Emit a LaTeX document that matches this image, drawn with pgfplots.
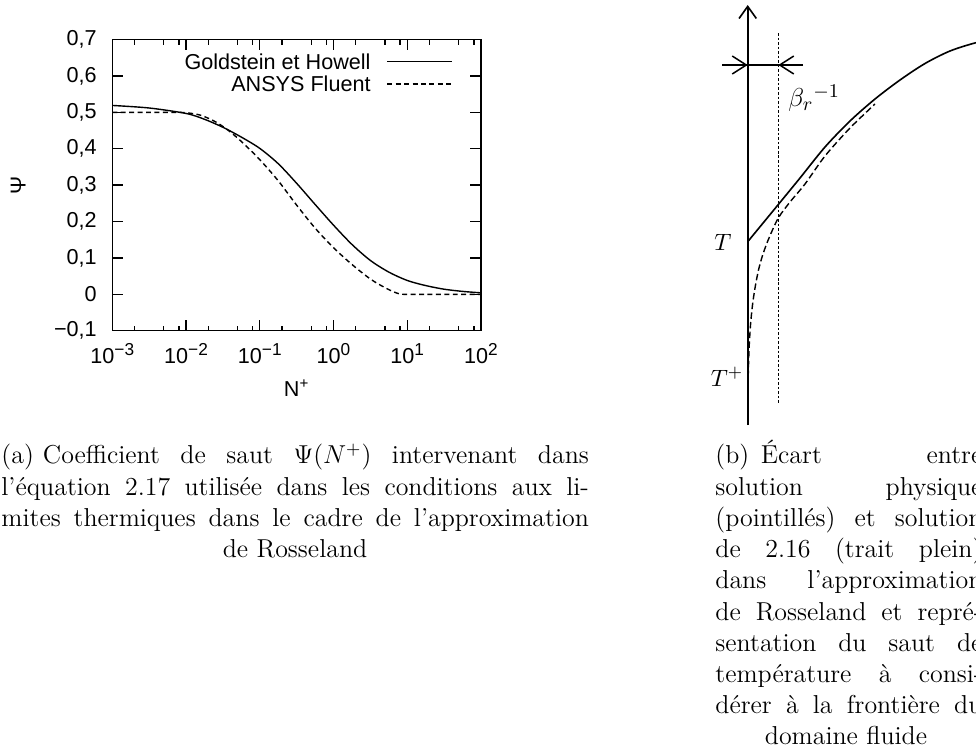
\documentclass[border=0pt]{standalone}
\usepackage{fontspec}
\usepackage{pgfplots}
\pgfplotsset{compat=1.18}
\usetikzlibrary{arrows.meta}
\newfontfamily\plotfont{Liberation Sans}
\newcommand\pf{\plotfont\fontsize{10}{12}\selectfont}
\newcommand\ex[1]{10\raisebox{4pt}{\fontsize{8}{9}\selectfont #1}}
\newcommand\cf{\fontsize{12}{14.45}\selectfont}
\begin{document}
\begin{tikzpicture}
\useasboundingbox (0pt,0pt) rectangle (451.89pt,-350.03pt);
\clip (0pt,0pt) rectangle (451.89pt,-350.03pt);
% ---------------- left plot ----------------
\begin{axis}[
  at={(52.0pt,-153.11pt)}, anchor=south west,
  scale only axis, width=170.71pt, height=134.78pt,
  xmode=log, xmin=1e-3, xmax=1e2, ymin=-0.1, ymax=0.7,
  xtick={1e-3,1e-2,1e-1,1,1e1,1e2},
  xticklabels={\ex{−3},\ex{−2},\ex{−1},\ex{0},\ex{1},\ex{2}},
  minor xtick={2e-3,5e-3,8e-3,2e-2,5e-2,8e-2,0.2,0.5,0.8,2,5,8,20,50,80},
  ytick={-0.1,0,0.1,0.2,0.3,0.4,0.5,0.6,0.7},
  yticklabels={{−0,1},{0},{0,1},{0,2},{0,3},{0,4},{0,5},{0,6},{0,7}},
  tick label style={font=\pf},
  xticklabel style={anchor=base, yshift=-15.4pt},
  yticklabel style={xshift=-3.7pt},
  major tick length=4.9pt, minor tick length=2.3pt,
  every tick/.style={black, line width=0.6pt},
  axis line style={line width=0.6pt},
  xlabel={N\textsuperscript{+}}, ylabel={Ψ},
  label style={font=\pf},
  xlabel style={at={(axis description cs:0.5,0)}, anchor=base, yshift=-30.5pt},
  ylabel style={at={(axis description cs:-0.255,0.5)}, anchor=center},
  legend style={draw=none, fill=none, at={(axis description cs:0.924,0.9516)}, anchor=north east,
     inner sep=0pt, outer sep=0pt, row sep=3.2pt, column sep=7.4pt,
     nodes={inner sep=0pt, text height=7.2pt, text depth=0pt}, font=\pf},
  legend plot pos=right, legend cell align=right,
  legend image code/.code={\draw[#1] (0pt,0pt) -- (30.1pt,0pt);},
]
\addplot[black, line width=0.65pt, smooth] coordinates {
(0.001,0.519) (0.003162,0.512) (0.01,0.497) (0.01778,0.481) (0.03162,0.459)
(0.05623,0.432) (0.1,0.401) (0.1778,0.359) (0.3162,0.305) (0.5623,0.247)
(1,0.190) (1.778,0.137) (3.162,0.093) (5.623,0.061) (10,0.038) (17.78,0.024)
(31.62,0.014) (56.23,0.008) (100,0.004)};
\addlegendentry{Goldstein et Howell}
\addplot[black, line width=0.65pt, dash pattern=on 2.3pt off 1.6pt, smooth] coordinates {
(0.001,0.5) (0.00631,0.5) (0.01,0.499) (0.01585,0.492) (0.02512,0.474)
(0.03715,0.451) (0.05623,0.420) (0.1,0.370) (0.1778,0.312) (0.3162,0.245)
(0.5623,0.182) (1,0.128) (1.778,0.082) (3.162,0.042) (5.012,0.018)
(7.079,0.004) (8.913,0) (20,0) (100,0)};
\addlegendentry{ANSYS Fluent}
\end{axis}
% ---------------- right sketch ----------------
\begin{axis}[
  at={(319.47pt,-199.09pt)}, anchor=south west,
  scale only axis, width=143.53pt, height=199.09pt,
  xmin=690, xmax=1000, ymin=0, ymax=430, y dir=reverse,
  hide axis, clip=false,
]
\addplot[black, line width=0.75pt, -{Straight Barb[length=5.6pt,width=8pt]}] coordinates {(747.7,425) (747.7,5)};
\addplot[black, line width=0.7pt] coordinates {(722,65) (803,65)};
\addplot[black, line width=0.7pt, -{Straight Barb[length=6.5pt,width=8.3pt]}] coordinates {(722,65) (747.7,65)};
\addplot[black, line width=0.7pt, -{Straight Barb[length=6.5pt,width=8.3pt]}] coordinates {(803,65) (778.3,65)};
\addplot[black, line width=0.4pt, dash pattern=on 1.2pt off 0.9pt] coordinates {(778.3,33) (778.3,403)};
\addplot[black, line width=0.75pt, smooth] coordinates {
(747.7,241.7) (778.3,204.5) (800,178) (825,147) (850,121) (875,99)
(900,80) (925,63.5) (950,51) (976,42.7) (1000,38)};
\addplot[black, line width=0.65pt, dash pattern=on 3pt off 1.5pt, smooth] coordinates {
(748.2,377) (749,350) (750.5,325) (752.5,305) (755,288) (758.5,270)
(763,254) (769,238) (778.3,218) (790,202) (805,184) (825,156) (850,128) (875,104)};
\node[font=\fontsize{11}{13}\selectfont] at (axis cs:723,242) {$T$};
\node[font=\fontsize{11}{13}\selectfont] at (axis cs:727,377) {$T^+$};
\node[font=\fontsize{13}{15}\selectfont, anchor=base west, inner sep=0pt] at (axis cs:788,106.7) {$\beta_r{}^{-1}$};
\end{axis}
% ---------------- captions ----------------
\begin{scope}[x=0.463pt,y=-0.463pt, every node/.style={inner sep=0pt, font=\cf}]
\node[anchor=base west] at (1,464) {\makebox[272pt][s]{(a)\hspace{0.35em}Coefficient de saut $\Psi(N^+)$ intervenant dans}};
\node[anchor=base west] at (1,495.2) {\makebox[272pt][s]{l’équation 2.17 utilisée dans les conditions aux li-}};
\node[anchor=base west] at (1,526.4) {\makebox[272pt][s]{mites thermiques dans le cadre de l’approximation}};
\node[anchor=base] at (295,557.6) {de Rosseland};
\node[anchor=base west] at (715,464) {\makebox[123.6pt][s]{(b)\hspace{0.45em}Écart entre}};
\node[anchor=base west] at (715,495.2) {\makebox[123.6pt][s]{solution physique}};
\node[anchor=base west] at (715,526.4) {\makebox[123.6pt][s]{(pointillés) et solution}};
\node[anchor=base west] at (715,557.6) {\makebox[123.6pt][s]{de 2.16 (trait plein)}};
\node[anchor=base west] at (715,588.8) {\makebox[123.6pt][s]{dans l’approximation}};
\node[anchor=base west] at (715,620) {\makebox[123.6pt][s]{de Rosseland et repré-}};
\node[anchor=base west] at (715,651.2) {\makebox[123.6pt][s]{sentation du saut de}};
\node[anchor=base west] at (715,682.4) {\makebox[123.6pt][s]{température à consi-}};
\node[anchor=base west] at (715,713.6) {\makebox[123.6pt][s]{dérer à la frontière du}};
\node[anchor=base] at (846,744.8) {domaine fluide};
\end{scope}
\end{tikzpicture}
\end{document}
